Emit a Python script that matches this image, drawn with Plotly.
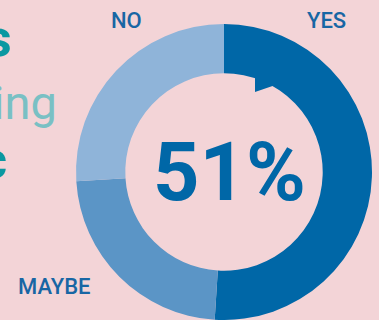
import plotly.graph_objects as go

labels = ["YES", "MAYBE", "NO"]
values = [51, 23, 26]
colors = ["#0067a7", "#5b95c6", "#8fb4d9"]
center_text = "51%"
title_bits = ["s", "ing", "c"]
title_colors = ["#0a98a1", "#79c0c4", "#0a98a1"]

W, H = 379, 320
BG = "#f3d4d7"

def px(x):
    return x / W

def py(y):
    return 1 - y / H

fig = go.Figure()
fig.add_trace(go.Pie(
    labels=labels, values=values, sort=False, direction="clockwise", rotation=0,
    hole=0.667, marker=dict(colors=colors, line=dict(width=0)),
    textinfo="none", hoverinfo="label+percent", showlegend=False,
    domain=dict(x=[px(76), px(372)], y=[py(320), py(24)]),
))

ann = []
ann.append(dict(x=px(229), y=py(172), text=f"<b>{center_text}</b>", showarrow=False,
                font=dict(family="Roboto", size=81, color="#0067a7"),
                xanchor="center", yanchor="middle"))
lab_pos = {"YES": (326, 20), "NO": (126, 20), "MAYBE": (54, 286)}
for lb in labels:
    x, y = lab_pos[lb]
    ann.append(dict(x=px(x), y=py(y), text=lb, showarrow=False,
                    font=dict(family="Roboto", size=22, color="#1866a4", weight=500),
                    xanchor="center", yanchor="middle"))
tpos = [(14, 38, 52), (59, 102, 47), (9, 160, 52)]
for t, c, (x, y, s) in zip(title_bits, title_colors, tpos):
    txt = f"<b>{t}</b>" if c == "#0a98a1" else t
    ann.append(dict(x=px(x), y=py(y), text=txt, showarrow=False,
                    font=dict(family="Roboto", size=s, color=c),
                    xanchor="right", yanchor="middle"))

shape_path = "M {} {} L {} {} L {} {} L {} {} Z".format(
    px(255), py(73), px(255), py(92), px(274), py(85.5), px(274), py(73))

fig.update_layout(
    width=W, height=H, margin=dict(l=0, r=0, t=0, b=0),
    paper_bgcolor=BG, plot_bgcolor=BG, annotations=ann,
    shapes=[dict(type="path", path=shape_path, xref="paper", yref="paper",
                 fillcolor="#0067a7", line=dict(width=0), layer="above")],
)
fig.write_html("out.html")
